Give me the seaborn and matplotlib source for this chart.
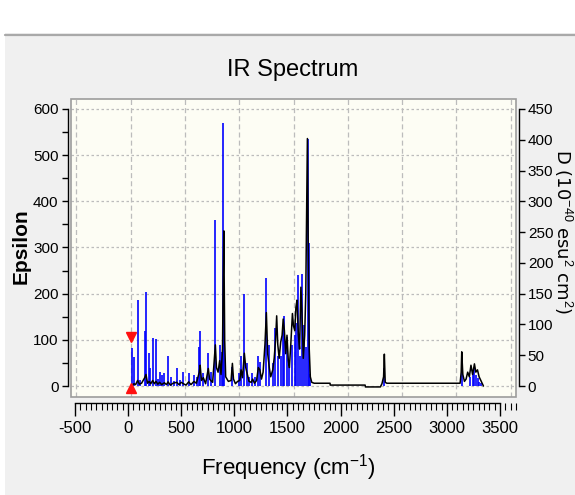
import matplotlib
matplotlib.use("Agg")
import matplotlib.pyplot as plt
from matplotlib.patches import Rectangle
from matplotlib.lines import Line2D
from matplotlib.ticker import MultipleLocator, FixedLocator
from matplotlib import font_manager
import numpy as np
import pandas as pd
import seaborn as sns

# ---------------- data ----------------
title = "IR Spectrum"
xlabel = "Frequency (cm$^{-1}$)"
ylabel_left = "Epsilon"
ylabel_right = "D (10$^{-40}$ esu$^{2}$ cm$^{2}$)"

x_ticks = [-500, 0, 500, 1000, 1500, 2000, 2500, 3000, 3500]
left_ticks = [0, 100, 200, 300, 400, 500, 600]
right_ticks = [0, 50, 100, 150, 200, 250, 300, 350, 400, 450]

# stick spectrum (frequency in cm-1, dipole strength D on right axis)
stick_freq = [10, 35, 64, 86, 129, 141, 166, 178, 203, 233, 250, 267, 290, 310,
              344, 370, 395, 424, 455, 485, 534, 583, 610, 632, 642, 669, 715,
              737, 780, 820, 839, 854, 863, 937, 1001, 1017, 1047, 1075, 1088,
              1118, 1149, 1173, 1194, 1247, 1277, 1309, 1333, 1355, 1382, 1401,
              1416, 1438, 1462, 1489, 1517, 1526, 1542, 1560, 1576, 1597, 1612,
              1631, 1640, 1652, 2337, 3050, 3127, 3152, 3167, 3182, 3198, 3213,
              3228]
stick_D = [61, 47, 139, 10, 90, 152, 54, 29, 78, 76, 12, 23, 18, 21,
           49, 15, 8, 29, 10, 23, 21, 18, 15, 64, 90, 21, 54,
           23, 270, 67, 56, 427, 146, 31, 21, 48, 149, 37, 15,
           21, 15, 48, 39, 176, 67, 37, 95, 48, 48, 96,
           113, 80, 31, 67, 83, 102, 180, 48, 182, 99, 64,
           402, 232, 20, 30, 52, 15, 23, 29, 18, 13, 7,
           5]

# broadened spectrum (Epsilon, left axis)
curve_freq = [10, 30, 45, 64, 80, 100, 129, 141, 155, 170, 185, 203, 218, 233,
              250, 267, 285, 310, 330, 344, 365, 390, 424, 445, 465, 485, 510,
              534, 555, 583, 605, 632, 640, 652, 669, 690, 715, 727, 737, 755,
              770, 780, 790, 805, 820, 832, 846, 852, 858, 866, 875, 900, 925,
              937, 947, 965, 985, 1005, 1017, 1030, 1047, 1060, 1075, 1090,
              1110, 1124, 1140, 1160, 1176, 1190, 1205, 1220, 1237, 1250, 1262,
              1277, 1290, 1309, 1322, 1335, 1345, 1355, 1368, 1382, 1395, 1405,
              1416, 1428, 1440, 1452, 1462, 1475, 1490, 1500, 1512, 1522, 1532,
              1545, 1556, 1568, 1578, 1590, 1603, 1613, 1620, 1628, 1636, 1645,
              1655, 1668, 1690, 1837, 1838, 2160, 2162, 2300, 2315, 2330, 2337,
              2345, 2360, 3035, 3045, 3050, 3060, 3075, 3090, 3105, 3120, 3135,
              3150, 3167, 3180, 3195, 3210, 3230, 3250]
curve_eps = [0, 5, 3, 12, 4, 6, 18, 25, 6, 10, 5, 12, 5, 10,
             4, 8, 3, 7, 3, 9, 2, 6, 8, 3, 8, 5, 2,
             9, 3, 10, 6, 30, 45, 12, 18, 5, 38, 15, 12, 8,
             55, 89, 40, 30, 55, 25, 80, 230, 336, 100, 20, 10, 12,
             49, 15, 5, 10, 12, 35, 18, 71, 40, 25, 10,
             8, 15, 6, 12, 40, 35, 15, 30, 90, 159, 70,
             40, 20, 35, 60, 100, 152, 90, 60, 95, 110, 145,
             120, 70, 110, 55, 40, 90, 157, 130, 120, 170, 186,
             110, 80, 214, 160, 60, 110, 200, 367, 536, 300, 80,
             20, 8, 6, 6, 2, 2, -2, -2, 5, 20, 69,
             8, 6, 6, 30, 74, 25, 10, 15, 30, 20, 45,
             25, 48, 30, 35, 20, 10, 0]

marker_freq = [0, 0]
marker_eps = [106, -5]

D_PER_EPS = 0.75   # right axis = 0.75 x left axis

# ---------------- style ----------------
sns.set_style("white")
names = {f.name for f in font_manager.fontManager.ttflist}
COND = 'DejaVu Sans Condensed' if 'DejaVu Sans Condensed' in names else 'Liberation Sans'
FAM = [COND, 'DejaVu Sans']
plt.rcParams['font.family'] = FAM
plt.rcParams['axes.unicode_minus'] = False
plt.rcParams['text.color'] = 'black'
plt.rcParams['axes.labelcolor'] = 'black'
plt.rcParams['xtick.color'] = 'black'
plt.rcParams['ytick.color'] = 'black'
plt.rcParams['mathtext.fontset'] = 'custom'
plt.rcParams['mathtext.rm'] = COND
plt.rcParams['mathtext.it'] = COND
plt.rcParams['mathtext.default'] = 'rm'

W, H = 575, 495
fig = plt.figure(figsize=(W / 100, H / 100), dpi=100, facecolor='#f0f0f0')

# window decoration: white band on top / left and a gray separator line
fig.add_artist(Rectangle((0, 1 - 33 / H), 1, 33 / H, transform=fig.transFigure,
                         facecolor='white', edgecolor='none', zorder=0))
fig.add_artist(Rectangle((0, 0), 5 / W, 1, transform=fig.transFigure,
                         facecolor='white', edgecolor='none', zorder=0))
fig.add_artist(Line2D([5 / W, 1], [1 - 34.5 / H, 1 - 34.5 / H], transform=fig.transFigure,
                      color='#a9a9a9', lw=1.6, zorder=1))

ax = fig.add_axes([71 / W, 1 - 397 / H, 445 / W, 298 / H])
ax.set_facecolor('#fdfdf4')

# grid
ax.set_xlim(-550, 3550)
ax.set_ylim(-23.8, 621.6)
ax.xaxis.set_major_locator(FixedLocator(x_ticks))
ax.set_yticks(left_ticks)
ax.yaxis.set_minor_locator(MultipleLocator(50))
ax.grid(True, axis='x', color='#bcbcbc', lw=0.9, ls=(0, (4, 2.5)))
ax.grid(True, axis='y', color='#bcbcbc', lw=0.9, ls=(0, (2, 2)))
ax.set_axisbelow(True)

# sticks (D values converted to the Epsilon scale of the main axes)
ax.vlines(stick_freq, 0, np.array(stick_D) / D_PER_EPS, color='#0000ff', lw=1.2, zorder=2)

# black broadened curve
df = pd.DataFrame({'freq': curve_freq, 'eps': curve_eps})
sns.lineplot(data=df, x='freq', y='eps', ax=ax, color='black', lw=1.1,
             sort=False, estimator=None, zorder=3)

# red markers
ax.plot(marker_freq[:1], marker_eps[:1], marker='v', color='#ff1010', ms=7,
        ls='none', clip_on=False, zorder=4)
ax.plot(marker_freq[1:], marker_eps[1:], marker='^', color='#ff1010', ms=7,
        ls='none', clip_on=False, zorder=4)

ax.set_xlabel('')
ax.tick_params(axis='x', which='both', length=0, labelbottom=False)

# left axis
for s in ['top', 'right', 'bottom']:
    ax.spines[s].set_visible(False)
ax.spines['left'].set_position(('outward', 2.5))
ax.spines['left'].set_bounds(0, 600)
ax.spines['left'].set_color('black')
ax.spines['left'].set_linewidth(1.0)
ax.tick_params(axis='y', which='both', direction='out', length=4.5, width=1.0,
               color='black', pad=2, labelsize=11, left=True)
ax.set_ylabel(ylabel_left, fontsize=15, fontweight='bold',
              family=['Liberation Sans', 'DejaVu Sans'], va='center', ha='center')
ax.yaxis.set_label_coords(-0.112, 0.505)

# plot frame
ax.add_patch(Rectangle((0, 0), 1, 1, transform=ax.transAxes, fill=False,
                       edgecolor='#9c9c9c', lw=1.2, clip_on=False, zorder=5))

# right axis
ax2 = ax.twinx()
lo, hi = ax.get_ylim()
ax2.set_ylim(lo * D_PER_EPS, hi * D_PER_EPS)
ax2.set_yticks(right_ticks)
for s in ['top', 'left', 'bottom']:
    ax2.spines[s].set_visible(False)
ax2.spines['right'].set_position(('outward', 2.5))
ax2.spines['right'].set_bounds(0, 450)
ax2.spines['right'].set_color('black')
ax2.spines['right'].set_linewidth(1.0)
ax2.tick_params(axis='y', direction='out', length=4, width=1.0, color='black',
                pad=2, labelsize=11, right=True)
ax2.set_ylabel(ylabel_right, fontsize=13, rotation=270,
               family=['DejaVu Sans'], va='center', ha='center')
ax2.yaxis.set_label_coords(1.106, 0.555)

# bottom axis (separate scale as drawn in the reference)
axb = ax.twiny()
axb.set_xlim(-537.6, 3650.6)
axb.xaxis.tick_bottom()
axb.xaxis.set_label_position('bottom')
axb.xaxis.set_major_locator(FixedLocator(x_ticks))
axb.xaxis.set_minor_locator(MultipleLocator(50))
for s in ['top', 'left', 'right']:
    axb.spines[s].set_visible(False)
axb.spines['bottom'].set_visible(True)
axb.spines['bottom'].set_position(('outward', 4.5))
axb.spines['bottom'].set_bounds(-500, 3500)
axb.spines['bottom'].set_color('black')
axb.spines['bottom'].set_linewidth(1.0)
axb.tick_params(axis='x', which='major', direction='out', length=9.5, width=1.0,
                color='black', pad=3, labelsize=12)
axb.tick_params(axis='x', which='minor', direction='out', length=5, width=0.8,
                color='black')
axb.set_xlabel(xlabel, fontsize=16, va='center', ha='center')
axb.xaxis.set_label_coords(0.488, -0.238)

fig.text(293 / W, 1 - 70 / H, title, fontsize=17, ha='center', va='center')

fig.savefig('out.png', dpi=100, facecolor=fig.get_facecolor())
